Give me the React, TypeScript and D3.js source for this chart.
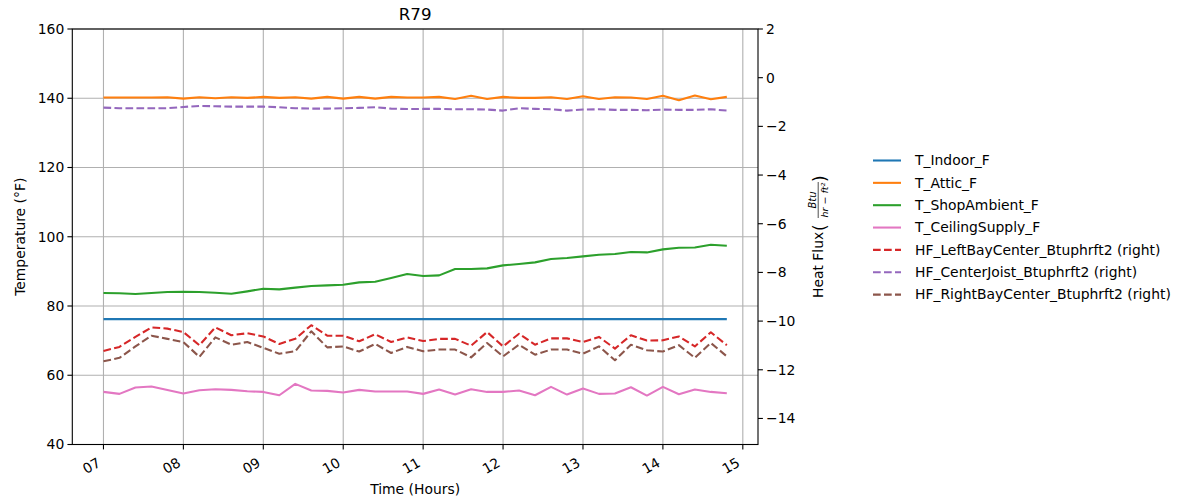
import React from "react";
import * as d3 from "d3";

const hourTicks = ["07", "08", "09", "10", "11", "12", "13", "14", "15"];
const leftTicks = [40, 60, 80, 100, 120, 140, 160];
const rightTicks = [-14, -12, -10, -8, -6, -4, -2, 0, 2];

const startHour = 7;
const stepHours = 0.2;

const tIndoor = [76.2, 76.2, 76.2, 76.2, 76.2, 76.2, 76.2, 76.2, 76.2, 76.2, 76.2, 76.2, 76.2, 76.2, 76.2, 76.2, 76.2, 76.2, 76.2, 76.2,
  76.2, 76.2, 76.2, 76.2, 76.2, 76.2, 76.2, 76.2, 76.2, 76.2, 76.2, 76.2, 76.2, 76.2, 76.2, 76.2, 76.2, 76.2, 76.2, 76.2];
const tAttic = [140.2, 140.2, 140.2, 140.2, 140.3, 139.9, 140.3, 140.0, 140.3, 140.1, 140.4, 140.1, 140.3, 139.9, 140.4, 139.9, 140.4, 139.9, 140.4, 140.2,
  140.2, 140.4, 139.8, 140.7, 139.8, 140.4, 140.1, 140.1, 140.3, 139.8, 140.6, 139.8, 140.3, 140.2, 139.8, 140.7, 139.4, 140.8, 139.7, 140.4];
const tShop = [83.75, 83.66, 83.46, 83.75, 84.04, 84.14, 84.04, 83.85, 83.56, 84.23, 85.0, 84.8, 85.3, 85.77, 85.96, 86.15, 86.83, 87.02, 88.08, 89.23,
  88.65, 88.85, 90.67, 90.67, 90.87, 91.73, 92.12, 92.6, 93.56, 93.85, 94.33, 94.81, 95.0, 95.58, 95.48, 96.35, 96.83, 96.92, 97.69, 97.4];
const tCeiling = [55.19, 54.62, 56.44, 56.73, 55.77, 54.71, 55.67, 55.96, 55.77, 55.38, 55.19, 54.23, 57.5, 55.58, 55.48, 55.0, 55.77, 55.29, 55.29, 55.29,
  54.62, 55.87, 54.42, 55.96, 55.19, 55.19, 55.58, 54.23, 56.63, 54.42, 56.15, 54.62, 54.71, 56.54, 54.13, 56.63, 54.52, 55.87, 55.19, 54.81];
const hfLeft = [-11.23, -11.06, -10.65, -10.26, -10.31, -10.45, -10.99, -10.26, -10.58, -10.5, -10.63, -10.94, -10.73, -10.17, -10.6, -10.6, -10.83, -10.54, -10.86, -10.67,
  -10.82, -10.73, -10.73, -11.01, -10.45, -11.04, -10.52, -10.97, -10.71, -10.71, -10.86, -10.65, -11.13, -10.58, -10.8, -10.79, -10.63, -11.04, -10.46, -10.99];
const hfCenter = [-1.229, -1.256, -1.256, -1.256, -1.256, -1.201, -1.16, -1.174, -1.188, -1.188, -1.188, -1.215, -1.256, -1.27, -1.27, -1.256, -1.242, -1.215, -1.27, -1.29,
  -1.283, -1.283, -1.297, -1.297, -1.31, -1.352, -1.256, -1.283, -1.297, -1.352, -1.31, -1.297, -1.324, -1.324, -1.338, -1.31, -1.324, -1.324, -1.297, -1.352];
const hfRight = [-11.65, -11.51, -11.04, -10.6, -10.73, -10.86, -11.47, -10.67, -10.97, -10.86, -11.1, -11.34, -11.24, -10.42, -11.08, -11.04, -11.25, -10.94, -11.31, -11.06,
  -11.24, -11.17, -11.17, -11.49, -10.9, -11.45, -10.97, -11.38, -11.17, -11.17, -11.34, -11.04, -11.61, -10.97, -11.2, -11.25, -10.99, -11.51, -10.9, -11.45];

const leftSeries = [
  { name: "T_Indoor_F", values: tIndoor, color: "#1f77b4" },
  { name: "T_Attic_F", values: tAttic, color: "#ff7f0e" },
  { name: "T_ShopAmbient_F", values: tShop, color: "#2ca02c" },
  { name: "T_CeilingSupply_F", values: tCeiling, color: "#e377c2" },
];
const rightSeries = [
  { name: "HF_LeftBayCenter_Btuphrft2 (right)", values: hfLeft, color: "#d62728" },
  { name: "HF_CenterJoist_Btuphrft2 (right)", values: hfCenter, color: "#9467bd" },
  { name: "HF_RightBayCenter_Btuphrft2 (right)", values: hfRight, color: "#8c564b" },
];

const W = 1186, H = 501;
const L = 72.3, R = 758, T = 29, B = 444.5;
const FONT = "DejaVu Sans, sans-serif";
const FS = 13.9;

export default function App() {
  const x = d3.scaleLinear().domain([6.61, 15.19]).range([L, R]);
  const yL = d3.scaleLinear().domain([40, 160]).range([B, T]);
  const yR = d3.scaleLinear().domain([-15.07, 2]).range([B, T]);
  const hourOf = (i: number) => startHour + i * stepHours;

  const lineL = d3.line<number>().x((_, i) => x(hourOf(i))).y((d) => yL(d));
  const lineR = d3.line<number>().x((_, i) => x(hourOf(i))).y((d) => yR(d));

  const fmt = (v: number) => (v < 0 ? "\u2212" + Math.abs(v) : String(v));
  const dash = "7.7,3.3";
  const legendItems = [
    ...leftSeries.map((s) => ({ ...s, dashed: false })),
    ...rightSeries.map((s) => ({ ...s, dashed: true })),
  ];

  return (
    <svg width={W} height={H} style={{ position: "absolute", left: 0, top: 0, background: "#fff" }}>
      <rect x={0} y={0} width={W} height={H} fill="#fff" />
      {/* grid */}
      {hourTicks.map((h) => (
        <line key={"gx" + h} x1={x(+h)} x2={x(+h)} y1={T} y2={B} stroke="#b0b0b0" strokeWidth={1.1} />
      ))}
      {leftTicks.map((v) => (
        <line key={"gy" + v} x1={L} x2={R} y1={yL(v)} y2={yL(v)} stroke="#b0b0b0" strokeWidth={1.1} />
      ))}
      {/* left lines */}
      {leftSeries.map((s) => (
        <path key={s.name} d={lineL(s.values) || ""} fill="none" stroke={s.color} strokeWidth={2.08} strokeLinejoin="round" />
      ))}
      {/* right lines */}
      {rightSeries.map((s) => (
        <path key={s.name} d={lineR(s.values) || ""} fill="none" stroke={s.color} strokeWidth={2.08} strokeDasharray={dash} strokeLinejoin="round" />
      ))}
      {/* frame */}
      <rect x={L} y={T} width={R - L} height={B - T} fill="none" stroke="#000" strokeWidth={1.1} />
      {/* x ticks */}
      {hourTicks.map((h) => (
        <g key={"xt" + h}>
          <line x1={x(+h)} x2={x(+h)} y1={B} y2={B + 4.9} stroke="#000" strokeWidth={1.1} />
          <text
            x={x(+h) - 7}
            y={B + 12}
            transform={`rotate(-30 ${x(+h) - 7} ${B + 12})`}
            textAnchor="end"
            dominantBaseline="hanging"
            fontFamily={FONT}
            fontSize={FS}
            fill="#000"
          >
            {h}
          </text>
        </g>
      ))}
      {/* left y ticks */}
      {leftTicks.map((v) => (
        <g key={"yl" + v}>
          <line x1={L - 4.9} x2={L} y1={yL(v)} y2={yL(v)} stroke="#000" strokeWidth={1.1} />
          <text x={L - 8} y={yL(v)} dy="0.35em" textAnchor="end" fontFamily={FONT} fontSize={FS} fill="#000">
            {v}
          </text>
        </g>
      ))}
      {/* right y ticks */}
      {rightTicks.map((v) => (
        <g key={"yr" + v}>
          <line x1={R} x2={R + 4.9} y1={yR(v)} y2={yR(v)} stroke="#000" strokeWidth={1.1} />
          <text x={R + 8} y={yR(v)} dy="0.35em" textAnchor="start" fontFamily={FONT} fontSize={FS} fill="#000">
            {fmt(v)}
          </text>
        </g>
      ))}
      {/* title */}
      <text x={(L + R) / 2} y={20} textAnchor="middle" fontFamily={FONT} fontSize={16.7} fill="#000">
        R79
      </text>
      {/* x label */}
      <text x={(L + R) / 2} y={494} textAnchor="middle" fontFamily={FONT} fontSize={FS} fill="#000">
        Time (Hours)
      </text>
      {/* left y label */}
      <text
        transform={`translate(25 ${(T + B) / 2}) rotate(-90)`}
        textAnchor="middle"
        fontFamily={FONT}
        fontSize={FS}
        fill="#000"
      >
        Temperature (°F)
      </text>
      {/* right y label */}
      <g transform={`translate(823 298) rotate(-90)`} fontFamily={FONT} fill="#000">
        <text x={0} y={0} fontSize={FS}>Heat Flux</text>
        <text x={67} y={2.5} fontSize={17}>(</text>
        <text x={98} y={-7.5} fontSize={10} fontStyle="italic" textAnchor="middle">Btu</text>
        <line x1={80} x2={116} y1={-4.8} y2={-4.8} stroke="#000" strokeWidth={0.7} />
        <text x={98} y={4.5} fontSize={9.5} fontStyle="italic" textAnchor="middle">hr − ft²</text>
        <text x={116} y={2.5} fontSize={17}>)</text>
      </g>
      {/* legend */}
      {legendItems.map((s, i) => {
        const yy = 160.5 + i * 22.35;
        return (
          <g key={"lg" + s.name}>
            <line x1={873} x2={901} y1={yy} y2={yy} stroke={s.color} strokeWidth={2.08} strokeDasharray={s.dashed ? dash : undefined} />
            <text x={915} y={yy} dy="0.35em" fontFamily={FONT} fontSize={FS} fill="#000">
              {s.name}
            </text>
          </g>
        );
      })}
    </svg>
  );
}
